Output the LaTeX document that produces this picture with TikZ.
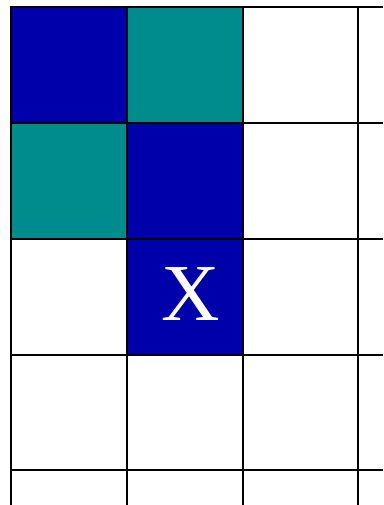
\documentclass[tikz,border=0pt]{standalone}
\usepackage{fontspec}
\setmainfont{Liberation Serif}
\definecolor{cblue}{RGB}{0,0,170}
\definecolor{cteal}{RGB}{0,140,140}
\begin{document}
\begin{tikzpicture}[x=1pt,y=-1pt,
  gridline/.style={draw=black,line width=2pt}]
\useasboundingbox (0,0) rectangle (383,505);
\fill[white] (0,0) rectangle (383,505);
% coloured cells
\fill[cblue] (10.5,7) rectangle (126.5,123);
\fill[cteal] (126.5,7) rectangle (242.5,123);
\fill[cteal] (10.5,123) rectangle (126.5,239);
\fill[cblue] (126.5,123) rectangle (242.5,239);
\fill[cblue] (126.5,239) rectangle (242.5,355);
% grid
\foreach \x in {10.5,126.5,242.5,358}
  \draw[gridline] (\x,6) -- (\x,505);
\foreach \y in {7,123,239,355,470}
  \draw[gridline] (9.5,\y) -- (383,\y);
\node[anchor=base,text=white,inner sep=0pt,font=\fontsize{81}{81}\selectfont] (x) at (190.5,320) {X};
\end{tikzpicture}
\end{document}
